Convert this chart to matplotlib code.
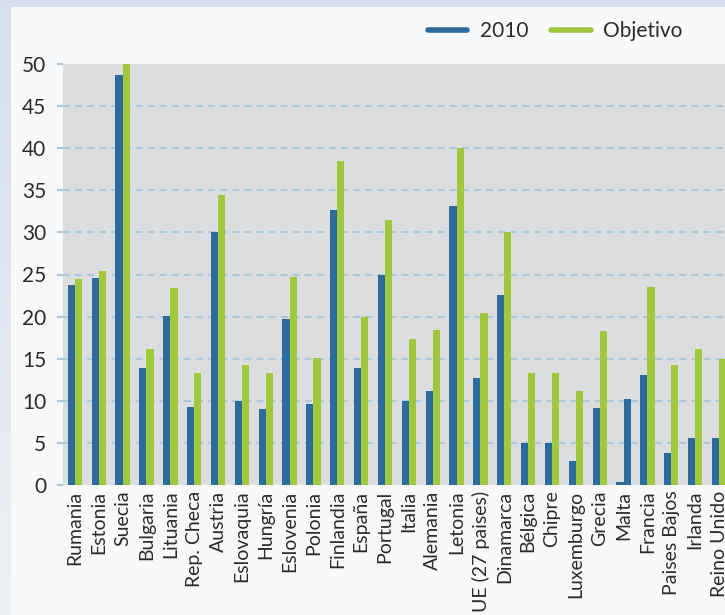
import numpy as np
import matplotlib
matplotlib.use("Agg")
import matplotlib.pyplot as plt
from matplotlib.lines import Line2D
from matplotlib.patches import Rectangle
from matplotlib.transforms import ScaledTranslation

plt.rcParams['font.family'] = ['Lato', 'DejaVu Sans']

paises = ["Rumania", "Estonia", "Suecia", "Bulgaria", "Lituania", "Rep. Checa",
          "Austria", "Eslovaquia", "Hungría", "Eslovenia", "Polonia", "Finlandia",
          "España", "Portugal", "Italia", "Alemania", "Letonia", "UE (27 paises)",
          "Dinamarca", "Bélgica", "Chipre", "Luxemburgo", "Grecia", "Malta",
          "Francia", "Paises Bajos", "Irlanda", "Reino Unido"]

valores_2010 = [23.8, 24.6, 48.7, 13.9, 20.1, 9.3, 30.1, 10.0, 9.0, 19.7, 9.6, 32.7,
                13.9, 25.0, 10.0, 11.2, 33.1, 12.7, 22.6, 5.0, 5.0, 2.9, 9.2, 0.4,
                13.1, 3.8, 5.6, 5.6]

objetivo = [24.5, 25.4, 50.0, 16.2, 23.4, 13.3, 34.5, 14.2, 13.3, 24.7, 15.1, 38.5,
            20.0, 31.5, 17.3, 18.4, 40.0, 20.4, 30.0, 13.3, 13.3, 11.2, 18.3, 10.2,
            23.5, 14.2, 16.1, 15.0]

y_ticks = [0, 5, 10, 15, 20, 25, 30, 35, 40, 45, 50]

AZUL = "#2c6b9b"
VERDE = "#a0c83c"
GRIS = "#dcdddf"
REJILLA = "#a9c9de"
TEXTO = "#2b2b2b"

# the Malta target bar is printed in the 2010 colour in the source figure
colores_obj = [AZUL if p == "Malta" else VERDE for p in paises]

fig = plt.figure(figsize=(7.25, 6.15), dpi=100)

# soft blue backdrop with a lighter lower part
bg = fig.add_axes([0, 0, 1, 1], zorder=-20)
grad = np.linspace(0, 1, 256).reshape(-1, 1)
top = np.array([0.835, 0.878, 0.925])
bottom = np.array([0.925, 0.945, 0.965])
img = top[None, None, :] * (1 - grad[:, :, None]) + bottom[None, None, :] * grad[:, :, None]
bg.imshow(img, aspect="auto", extent=[0, 1, 0, 1])
bg.set_xlim(0, 1)
bg.set_ylim(0, 1)
bg.axis("off")
bg.add_patch(Rectangle((11 / 725, 0), 1, 1 - 7 / 615, facecolor="#f7f9fb",
                       edgecolor="none", transform=bg.transAxes))

ax = fig.add_axes([63 / 725, 1 - 485 / 615, (725 - 63) / 725, (485 - 64) / 615])
ax.set_facecolor(GRIS)

x = np.arange(len(paises))
w = 0.3
ax.bar(x - w / 2, valores_2010, width=w, color=AZUL, zorder=3)
ax.bar(x + w / 2, objetivo, width=w, color=colores_obj, zorder=3)

for t in y_ticks[1:-1]:
    ax.axhline(t, color=REJILLA, linewidth=1.5, dashes=(3.4, 2.4), zorder=1)

ax.set_xlim(-0.5, 27.25)
ax.set_ylim(0, 50)
ax.set_yticks(y_ticks)
ax.set_yticklabels([str(t) for t in y_ticks], fontsize=15, color=TEXTO)
ax.set_xticks(x)
ax.set_xticklabels(paises, rotation=90, fontsize=14, color=TEXTO, va="top", ha="center")
shift = ScaledTranslation(-2 / 100, 0, fig.dpi_scale_trans)
for lbl in ax.get_xticklabels():
    lbl.set_transform(lbl.get_transform() + shift)
ax.tick_params(axis="y", length=4, width=1.5, color=REJILLA, pad=8)
ax.tick_params(axis="x", length=0, pad=4)
for s in ax.spines.values():
    s.set_visible(False)

handles = [Line2D([], [], color=AZUL, linewidth=4, solid_capstyle="round"),
           Line2D([], [], color=VERDE, linewidth=4, solid_capstyle="round")]
fig.legend(handles, ["2010", "Objetivo"], loc="center", ncol=2, frameon=False,
           bbox_to_anchor=(555 / 725, 1 - 31 / 615), fontsize=15,
           handlelength=1.9, handletextpad=0.6, columnspacing=1.1,
           labelcolor=TEXTO)

fig.savefig("out.png", dpi=100)
